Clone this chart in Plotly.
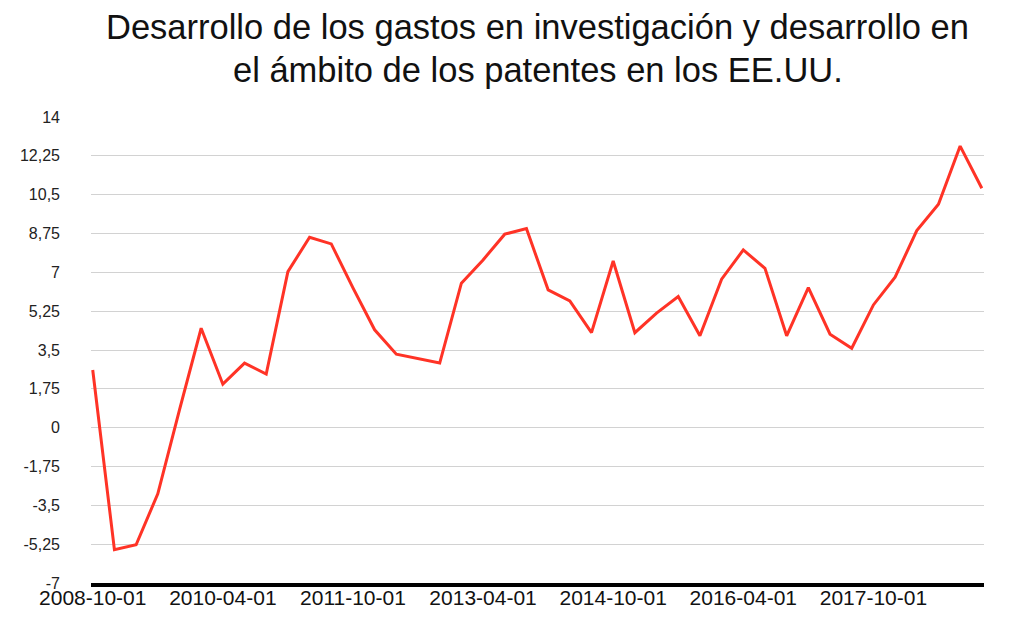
import plotly.graph_objects as go

dates = [
    "2008-10-01", "2009-01-01", "2009-04-01", "2009-07-01", "2009-10-01", "2010-01-01",
    "2010-04-01", "2010-07-01", "2010-10-01", "2011-01-01", "2011-04-01", "2011-07-01",
    "2011-10-01", "2012-01-01", "2012-04-01", "2012-07-01", "2012-10-01", "2013-01-01",
    "2013-04-01", "2013-07-01", "2013-10-01", "2014-01-01", "2014-04-01", "2014-07-01",
    "2014-10-01", "2015-01-01", "2015-04-01", "2015-07-01", "2015-10-01", "2016-01-01",
    "2016-04-01", "2016-07-01", "2016-10-01", "2017-01-01", "2017-04-01", "2017-07-01",
    "2017-10-01", "2018-01-01", "2018-04-01", "2018-07-01", "2018-10-01", "2019-01-01",
]
values = [
    2.6, -5.5, -5.28, -2.98, 0.8, 4.48,
    1.96, 2.91, 2.42, 7.03, 8.58, 8.28,
    6.3, 4.41, 3.31, 3.1, 2.91, 6.51,
    7.56, 8.72, 8.97, 6.21, 5.71, 4.28,
    7.51, 4.28, 5.16, 5.91, 4.14, 6.69,
    8.01, 7.18, 4.14, 6.31, 4.21, 3.58,
    5.53, 6.78, 8.88, 10.07, 12.69, 10.79,
]
x_ticks = ["2008-10-01", "2010-04-01", "2011-10-01", "2013-04-01",
           "2014-10-01", "2016-04-01", "2017-10-01"]
y_ticks = [-7, -5.25, -3.5, -1.75, 0, 1.75, 3.5, 5.25, 7, 8.75, 10.5, 12.25, 14]
y_tick_text = ["-7", "-5,25", "-3,5", "-1,75", "0", "1,75", "3,5", "5,25", "7",
               "8,75", "10,5", "12,25", "14"]
title_lines = ["Desarrollo de los gastos en investigación y desarrollo en",
               "el ámbito de los patentes en los EE.UU."]

FONT = "Liberation Sans, Arial, Helvetica, sans-serif"

fig = go.Figure()
fig.add_trace(go.Scatter(
    x=dates, y=values, mode="lines",
    line=dict(color="#FF3326", width=3),
    showlegend=False, hoverinfo="x+y",
))

M_L, M_R, M_T, M_B = 78, 37, 109, 57
fig.update_layout(
    width=1013, height=632,
    margin=dict(l=M_L, r=M_R, t=M_T, b=M_B),
    paper_bgcolor="white", plot_bgcolor="white",
    font=dict(family=FONT, color="#1a1a1a"),
)
fig.update_xaxes(
    type="category", range=[-0.08, 41.1],
    tickmode="array", tickvals=x_ticks, ticktext=x_ticks,
    tickfont=dict(size=21, family=FONT, color="#111"),
    showgrid=False, ticks="", zeroline=False,
    showline=True, linecolor="black", linewidth=4,
    ticklabelstandoff=-7,
)
fig.update_yaxes(
    range=[-7, 14], tickmode="array", tickvals=y_ticks, ticktext=y_tick_text,
    tickfont=dict(size=16, family=FONT, color="#222"),
    showgrid=True, gridcolor="#D2D2D2", gridwidth=1,
    zeroline=False, showline=False, ticks="",
    ticklabelstandoff=30,
)

# title lines, positioned relative to the plot area (page px -> paper coords)
plot_bottom_px = 583
plot_h = 632 - M_T - M_B
for line, cy in zip(title_lines, [26.7, 69.5]):
    fig.add_annotation(
        text=line, xref="paper", yref="paper",
        x=0.5, y=(plot_bottom_px - cy) / plot_h, xanchor="center", yanchor="middle",
        showarrow=False, font=dict(size=34.5, family=FONT, color="#111"),
    )

fig.write_html("out.html")
